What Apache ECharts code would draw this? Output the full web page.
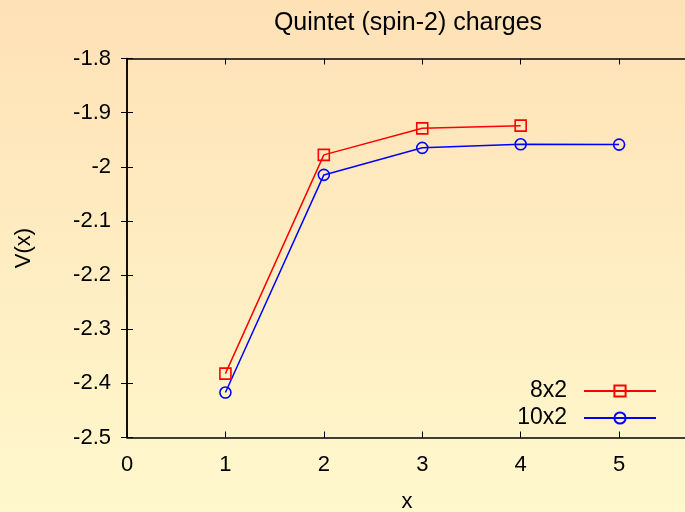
<!DOCTYPE html>
<html>
<head>
<meta charset="utf-8">
<script src="https://cdn.jsdelivr.net/npm/echarts@6/dist/echarts.min.js"></script>
<style>
  html, body { margin: 0; padding: 0; }
  #chart { width: 685px; height: 512px; }
</style>
</head>
<body>
<div id="chart"></div>
<script>
// Lattice sizes and the potential V(x) measured at each separation x
const seriesNames = ['8x2', '10x2'];
const x8x2 = [1, 2, 3, 4];
const v8x2 = [-2.382, -1.978, -1.929, -1.924];
const x10x2 = [1, 2, 3, 4, 5];
const v10x2 = [-2.417, -2.015, -1.965, -1.9585, -1.959];

// Axis ranges
const xMin = 0, xMax = 5.69, xStep = 1;
const yMin = -2.5, yMax = -1.8, yStep = 0.1;

const FONT = 'Liberation Sans';
const pairs = (xs, ys) => xs.map((x, i) => [x, ys[i]]);

const chart = echarts.init(document.getElementById('chart'), null, { renderer: 'canvas' });

const lineAxis = { show: true, lineStyle: { color: '#000', width: 1.5 } };
const tickIn = { show: true, inside: true, length: 6, lineStyle: { color: '#000', width: 1 } };

chart.setOption({
  backgroundColor: {
    type: 'linear', x: 0, y: 0, x2: 0, y2: 1,
    colorStops: [
      { offset: 0, color: '#ffe1b6' },
      { offset: 1, color: '#fff8cd' }
    ]
  },
  animation: false,
  title: {
    text: 'Quintet (spin-2) charges',
    left: 408,
    top: 11,
    padding: 0,
    textAlign: 'center',
    textStyle: { fontFamily: FONT, fontSize: 25, fontWeight: 'normal', color: '#000' }
  },
  grid: { left: 127, top: 58.5, right: -2, bottom: 74.5, outerBoundsMode: 'none', containLabel: false },
  legend: {
    orient: 'vertical',
    align: 'right',
    right: 28,
    top: 379,
    padding: 0,
    itemWidth: 72,
    itemHeight: 14,
    itemGap: 3,
    data: seriesNames,
    textStyle: { fontFamily: FONT, fontSize: 23, lineHeight: 24, color: '#000', padding: [0, 12, 0, 0] }
  },
  xAxis: [
    {
      type: 'value', min: xMin, max: xMax, interval: xStep,
      name: 'x', nameLocation: 'middle', nameGap: 53,
      nameTextStyle: { fontFamily: FONT, fontSize: 22, color: '#000' },
      axisLine: lineAxis, axisTick: tickIn, splitLine: { show: false },
      axisLabel: {
        fontFamily: FONT, fontSize: 22, color: '#000', margin: 16,
        showMaxLabel: false,
        formatter: v => (Number.isInteger(v) ? String(v) : '')
      }
    },
    {
      type: 'value', position: 'top', min: xMin, max: xMax, interval: xStep,
      axisLine: lineAxis, axisTick: tickIn, axisLabel: { show: false }, splitLine: { show: false }
    }
  ],
  yAxis: [
    {
      type: 'value', min: yMin, max: yMax, interval: yStep,
      name: 'V(x)', nameLocation: 'middle', nameGap: 92, nameRotate: 90,
      nameTextStyle: { fontFamily: FONT, fontSize: 22, color: '#000' },
      axisLine: lineAxis, axisTick: tickIn, splitLine: { show: false },
      axisLabel: { fontFamily: FONT, fontSize: 22, color: '#000', margin: 16 }
    },
    {
      type: 'value', position: 'right', min: yMin, max: yMax, interval: yStep,
      axisLine: lineAxis, axisTick: tickIn, axisLabel: { show: false }, splitLine: { show: false }
    }
  ],
  series: [
    {
      name: seriesNames[0], type: 'line', data: pairs(x8x2, v8x2),
      symbol: 'rect', symbolSize: 11,
      lineStyle: { color: '#ff0000', width: 1.5 },
      itemStyle: { color: 'rgba(0,0,0,0)', borderColor: '#ff0000', borderWidth: 1.6 }
    },
    {
      name: seriesNames[1], type: 'line', data: pairs(x10x2, v10x2),
      symbol: 'circle', symbolSize: 11,
      lineStyle: { color: '#0000ff', width: 1.5 },
      itemStyle: { color: 'rgba(0,0,0,0)', borderColor: '#0000ff', borderWidth: 1.6 }
    }
  ]
});
</script>
</body>
</html>
